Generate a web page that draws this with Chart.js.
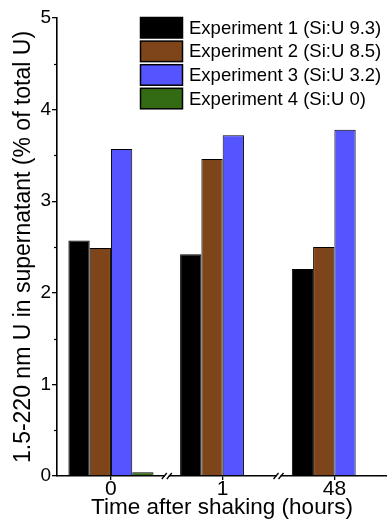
<!DOCTYPE html>
<html><head><meta charset="utf-8">
<script src="https://cdn.jsdelivr.net/npm/chart.js@4/dist/chart.umd.min.js"></script>
<style>html,body{margin:0;padding:0;background:#fff;overflow:hidden}</style>
</head><body>
<canvas id="c" width="387" height="521" style="display:block;width:387px;height:521px"></canvas>
<script>
const categories = ['0', '1', '48'];
const seriesLabels = ['Experiment 1 (Si:U 9.3)', 'Experiment 2 (Si:U 8.5)', 'Experiment 3 (Si:U 3.2)', 'Experiment 4 (Si:U 0)'];
const exp1 = [2.57, 2.42, 2.26];
const exp2 = [2.49, 3.46, 2.50];
const exp3 = [3.57, 3.72, 3.78];
const exp4 = [0.04, 0.01, 0.005];
const yTicks = [0, 1, 2, 3, 4, 5];
const breakPositions = [0.5, 1.5];
const colors = ['#000000', '#7F451A', '#5555FF', '#336B14'];

const FONT = "'Liberation Sans', Arial, sans-serif";
const series = [exp1, exp2, exp3, exp4];
const datasets = series.map((vals, i) => ({
  label: seriesLabels[i],
  data: vals.map((v, j) => ({x: j, y: v})),
  backgroundColor: colors[i],
  borderColor: '#000',
  borderWidth: 1,
  borderSkipped: 'bottom',
  categoryPercentage: 0.762,
  barPercentage: 1.0
}));

const extras = {
  id: 'extras',
  afterDraw(chart) {
    const {ctx, chartArea: a, scales: {x, y}} = chart;
    ctx.save();
    // minor y ticks
    ctx.strokeStyle = '#000'; ctx.lineWidth = 1.2;
    for (let i = 0; i < yTicks.length - 1; i++) {
      const py = Math.round(y.getPixelForValue((yTicks[i] + yTicks[i + 1]) / 2)) + 0.5;
      ctx.beginPath(); ctx.moveTo(a.left - 3, py); ctx.lineTo(a.left, py); ctx.stroke();
    }
    // axis breaks
    breakPositions.forEach(v => {
      const px = x.getPixelForValue(v);
      const py = a.bottom;
      ctx.fillStyle = '#fff';
      ctx.fillRect(px - 2, py - 1.5, 4, 3);
      ctx.strokeStyle = '#000'; ctx.lineWidth = 1.3;
      [-2.5, 2.5].forEach(d => {
        ctx.beginPath(); ctx.moveTo(px + d - 2.5, py + 3); ctx.lineTo(px + d + 2.5, py - 3); ctx.stroke();
      });
    });
    // legend
    ctx.font = '18.5px ' + FONT;
    ctx.textBaseline = 'middle';
    ctx.textAlign = 'left';
    chart.data.datasets.forEach((ds, i) => {
      const bx = 140.5, by = 17.5 + i * 23.6, bw = 42, bh = 20.5;
      ctx.fillStyle = ds.backgroundColor;
      ctx.fillRect(bx, by, bw, bh);
      ctx.strokeStyle = '#000'; ctx.lineWidth = 1.5;
      ctx.strokeRect(bx, by, bw, bh);
      ctx.fillStyle = '#000';
      ctx.fillText(ds.label, 189, by + bh / 2 + 1);
    });
    ctx.restore();
  }
};

new Chart(document.getElementById('c'), {
  type: 'bar',
  data: {datasets},
  options: {
    responsive: false,
    devicePixelRatio: 1,
    animation: false,
    layout: {padding: {top: 18, right: 0, left: 0, bottom: 0}},
    plugins: {legend: {display: false}, tooltip: {enabled: false}},
    scales: {
      x: {
        type: 'linear',
        offset: false,
        min: -0.483,
        max: 2.471,
        afterFit: s => { s.height = 45; },
        ticks: {
          stepSize: 1,
          includeBounds: false,
          autoSkip: false,
          maxRotation: 0,
          padding: -3,
          color: '#000',
          font: {family: FONT, size: 21},
          callback: v => (Number.isInteger(v) && categories[v] !== undefined) ? categories[v] : ''
        },
        grid: {display: true, offset: false, drawOnChartArea: false, drawTicks: true, tickLength: 4, color: '#000', lineWidth: 1.3},
        border: {display: true, color: '#000', width: 1.6},
        title: {display: true, text: 'Time after shaking (hours)', color: '#000', font: {family: FONT, size: 22.5}, padding: {top: 0, bottom: 0}}
      },
      y: {
        min: 0, max: 5,
        afterFit: s => { s.width = 57; },
        afterBuildTicks: s => { s.ticks = yTicks.map(v => ({value: v})); },
        ticks: {
          padding: 1,
          color: '#000',
          font: {family: FONT, size: 19}
        },
        grid: {display: true, drawOnChartArea: false, drawTicks: true, tickLength: 5, color: '#000', lineWidth: 1.3},
        border: {display: true, color: '#000', width: 1.6},
        title: {display: true, text: '1.5-220 nm U in supernatant (% of total U)', color: '#000', font: {family: FONT, size: 23}, padding: {top: 10, bottom: 0}}
      }
    }
  },
  plugins: [extras]
});
</script>
</body></html>
